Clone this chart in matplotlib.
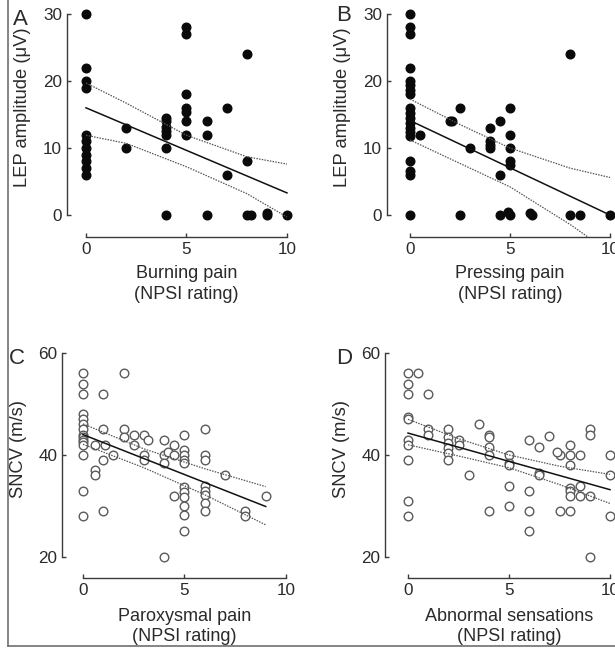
import matplotlib
matplotlib.use("Agg")
import matplotlib.pyplot as plt
from matplotlib.lines import Line2D

plt.rcParams['font.family'] = ['Liberation Sans', 'DejaVu Sans']

# ---------------- Panel A: Burning pain vs LEP amplitude ----------------
burning_x = [0, 0, 0, 0, 0, 0, 0, 0, 0, 0, 0,
             2, 2,
             4, 4, 4, 4, 4, 4, 4,
             5, 5, 5, 5, 5, 5, 5,
             6, 6, 6,
             7, 7,
             8, 8, 8, 8.2,
             9, 9,
             10]
burning_y = [30, 22, 20, 19, 12, 11, 10, 9, 8, 7, 6,
             13, 10,
             14.5, 14, 13.2, 12.5, 12, 10, 0,
             28, 27, 18, 16, 15.4, 14, 12,
             14, 12, 0,
             16, 6,
             24, 8, 0, 0,
             0.3, 0,
             0]
burning_fit_x = [0, 10]
burning_fit_y = [16.0, 3.3]
burning_ci_x = [0, 2, 5, 8, 10]
burning_ci_hi = [19.7, 16.7, 11.9, 8.7, 7.6]
burning_ci_lo = [11.9, 10.7, 7.2, 3.2, -0.3]

# ---------------- Panel B: Pressing pain vs LEP amplitude ----------------
pressing_x = [0, 0, 0, 0, 0, 0, 0, 0, 0, 0, 0, 0, 0, 0, 0, 0, 0, 0, 0,
              0.5,
              2, 2.1, 2.5, 2.5, 3,
              4, 4, 4, 4, 4.5, 4.5, 4.5,
              5, 5, 5, 5, 5, 4.9, 5,
              6, 6.1,
              8, 8, 8.5, 10]
pressing_y = [30, 28, 27, 22, 20, 19.4, 18.7, 18, 16, 15.2, 14.5, 13.8, 13, 12.4, 11.8, 8, 6.5, 6, 0,
              12,
              14, 14, 16, 0, 10,
              13, 11, 10.5, 10, 14, 6, 0,
              16, 12, 10, 8, 7.5, 0.4, 0,
              0.3, 0,
              24, 0, 0, 0]
pressing_fit_x = [0, 10]
pressing_fit_y = [14.1, 0.0]
pressing_ci_x = [0, 2.5, 5, 8, 10]
pressing_ci_hi = [17.3, 13.5, 10.0, 7.0, 5.6]
pressing_ci_lo = [11.2, 7.7, 4.2, -1.4, -5.6]

# ---------------- Panel C: Paroxysmal pain vs SNCV ----------------
parox_x = [0, 0, 0, 0, 0, 0, 0, 0, 0, 0, 0, 0, 0, 0, 0,
           0.6, 0.6, 0.6,
           1, 1, 1.1, 1, 1,
           1.5,
           2, 2, 2,
           2.5, 2.5,
           3, 3.2, 3, 3,
           4, 4, 4.2, 4, 4,
           4.5, 4.5, 4.5,
           5, 5, 5, 5, 5, 5, 5, 5, 5, 5, 5,
           6, 6, 6, 6, 6, 6, 6, 6,
           7,
           8, 8,
           9]
parox_y = [56, 54, 52, 48, 47, 46, 45, 44, 43.5, 43, 42.5, 42, 40, 33, 28,
           42, 37, 36,
           52, 45, 42, 39, 29,
           40,
           56, 45, 43.5,
           44, 42,
           44, 43, 40, 39,
           43, 40, 40.5, 38.5, 20,
           42, 40, 32,
           44, 41, 40, 39, 38.5, 33.8, 32.8, 31.8, 30, 28.2, 25,
           45, 40, 39, 34, 33, 32.2, 30.5, 29,
           36,
           29, 28,
           32]
parox_fit_x = [0, 9]
parox_fit_y = [44.0, 29.9]
parox_ci_x = [0, 3, 6, 9]
parox_ci_hi = [46.1, 41.2, 37.3, 33.8]
parox_ci_lo = [42.1, 37.5, 32.2, 26.3]

# ---------------- Panel D: Abnormal sensations vs SNCV ----------------
abnorm_x = [0, 0, 0, 0, 0, 0, 0, 0, 0, 0,
            0.5,
            1, 1, 1,
            2, 2, 2, 2, 2, 2,
            2.5, 2.5,
            3, 3.5,
            4, 4, 4, 4, 4,
            5, 5, 5, 5, 5,
            6, 6, 6, 6,
            6.5, 6.5, 6.5,
            7,
            7.5, 7.4, 7.5,
            8, 8, 8, 8, 8, 8, 8,
            8.5, 8.5, 8.5,
            9, 9, 9, 9,
            10, 10, 10]
abnorm_y = [56, 54, 52, 47.5, 47, 43, 42, 39, 31, 28,
            56,
            52, 45, 44,
            45, 43.5, 42.3, 41.3, 40.3, 39,
            43, 42,
            36, 46,
            44, 43.5, 41.6, 40, 29,
            40, 38.5, 38, 34, 30,
            43, 33, 29, 25,
            41.6, 36.5, 36,
            43.7,
            40, 40.5, 29,
            42, 40, 38, 33.5, 33, 32, 29,
            40, 34, 32,
            45, 44, 32, 20,
            40, 36, 28]
abnorm_fit_x = [0, 10]
abnorm_fit_y = [44.3, 33.2]
abnorm_ci_x = [0, 2.5, 5, 7.5, 10]
abnorm_ci_hi = [47.0, 43.2, 40.0, 37.8, 36.2]
abnorm_ci_lo = [42.0, 39.8, 37.5, 34.2, 30.5]

# ---------------- Text ----------------
panel_letters = ["A", "B", "C", "D"]
x_labels = ["Burning pain\n(NPSI rating)", "Pressing pain\n(NPSI rating)",
            "Paroxysmal pain\n(NPSI rating)", "Abnormal sensations\n(NPSI rating)"]
y_labels = ["LEP amplitude (\u03bcV)", "LEP amplitude (\u03bcV)", "SNCV (m/s)", "SNCV (m/s)"]
x_ticks = [0, 5, 10]
lep_ticks = [0, 10, 20, 30]
sncv_ticks = [20, 40, 60]

W, H = 615, 648
fig = plt.figure(figsize=(W / 100, H / 100), dpi=100)

SPINE = '#3a3a3a'
TXT = '#2a2a2a'


def make_axes(l, r, t, b):
    return fig.add_axes([l / W, 1 - b / H, (r - l) / W, (b - t) / H])


def style(ax, xlim, ylim, yticks, xlabel, ylabel, lab_x, lab_y_frac, xlab_y):
    ax.set_xlim(*xlim)
    ax.set_ylim(*ylim)
    for s in ('top', 'right'):
        ax.spines[s].set_visible(False)
    ax.spines['left'].set_bounds(yticks[0], yticks[-1])
    ax.spines['bottom'].set_bounds(x_ticks[0], x_ticks[-1])
    for s in ('left', 'bottom'):
        ax.spines[s].set_color(SPINE)
        ax.spines[s].set_linewidth(1.0)
    ax.set_xticks(x_ticks)
    ax.set_yticks(yticks)
    ax.tick_params(direction='in', length=3.2, width=1.0, color=SPINE,
                   labelsize=12.3, labelcolor=TXT, pad=3.5)
    ax.set_xlabel(xlabel, fontsize=13, color=TXT, linespacing=1.3)
    ax.set_ylabel(ylabel, fontsize=13.2, color=TXT)
    ax.yaxis.set_label_coords(lab_x, lab_y_frac)
    ax.xaxis.set_label_coords(0.5 * (0 - xlim[0] + 10 - xlim[0]) / (xlim[1] - xlim[0]), xlab_y)
    ax.set_facecolor('none')


def lines(ax, fx, fy, cx, chi, clo):
    ax.plot(fx, fy, color='#111111', lw=1.1, zorder=4)
    ax.plot(cx, chi, color='#555555', lw=0.9, ls=(0, (1.2, 1.0)), zorder=4)
    ax.plot(cx, clo, color='#555555', lw=0.9, ls=(0, (1.2, 1.0)), zorder=4)


# Panel A
axA = make_axes(67, 291, 12, 237)
axA.plot(burning_x, burning_y, 'o', ms=6.2, color='#0a0a0a', clip_on=False, zorder=3)
lines(axA, burning_fit_x, burning_fit_y, burning_ci_x, burning_ci_hi, burning_ci_lo)
style(axA, (-0.945, 10.2), (-3.28, 30.3), lep_ticks, x_labels[0], y_labels[0],
      -0.16, 0.575, -0.125)

# Panel B
axB = make_axes(387, 614, 12, 237)
axB.plot(pressing_x, pressing_y, 'o', ms=6.2, color='#0a0a0a', clip_on=False, zorder=3)
lines(axB, pressing_fit_x, pressing_fit_y, pressing_ci_x, pressing_ci_hi, pressing_ci_lo)
style(axB, (-1.15, 10.2), (-3.28, 30.3), lep_ticks, x_labels[1], y_labels[1],
      -0.16, 0.575, -0.125)

# Panel C
axC = make_axes(62, 290, 351, 578)
axC.plot(parox_x, parox_y, 'o', ms=6.2, mfc='white', mec='#5a5a5a', mew=1.0,
         clip_on=False, zorder=3)
lines(axC, parox_fit_x, parox_fit_y, parox_ci_x, parox_ci_hi, parox_ci_lo)
style(axC, (-1.034, 10.197), (15.88, 60.39), sncv_ticks, x_labels[2], y_labels[2],
      -0.155, 0.57, -0.13)

# Panel D
axD = make_axes(385, 614, 351, 578)
axD.plot(abnorm_x, abnorm_y, 'o', ms=6.2, mfc='white', mec='#5a5a5a', mew=1.0,
         clip_on=False, zorder=3)
lines(axD, abnorm_fit_x, abnorm_fit_y, abnorm_ci_x, abnorm_ci_hi, abnorm_ci_lo)
style(axD, (-1.139, 10.198), (15.88, 60.39), sncv_ticks, x_labels[3], y_labels[3],
      -0.155, 0.57, -0.13)

# Panel letters
letter_pos = [(13, 9), (336, 5), (9, 348), (336, 348)]
for letter, (px, py) in zip(panel_letters, letter_pos):
    fig.text(px / W, 1 - py / H, letter, fontsize=16, color=TXT, ha='left', va='top')

# Frame lines (left and bottom border of the original figure)
fig.add_artist(Line2D([8 / W, 8 / W], [1 - 646 / H, 1.0], transform=fig.transFigure,
                      color='#707070', lw=1.2))
fig.add_artist(Line2D([8 / W, 1.0], [1 - 646 / H, 1 - 646 / H], transform=fig.transFigure,
                      color='#707070', lw=1.2))

fig.savefig('out.png', dpi=100, facecolor='white')
